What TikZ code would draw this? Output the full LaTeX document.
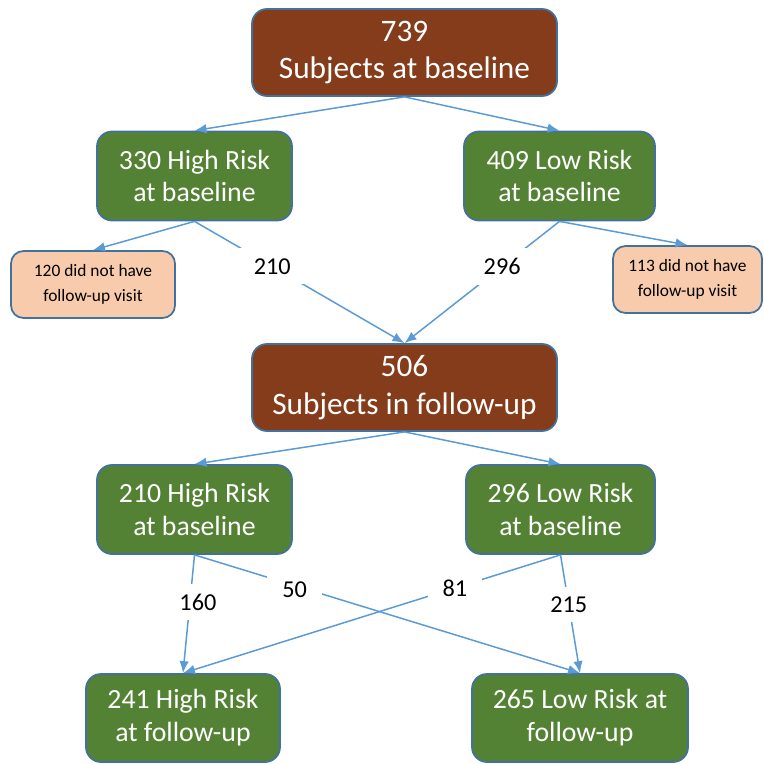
\documentclass[tikz,border=0pt]{standalone}
\usepackage{fontspec}
\setmainfont{Carlito}
\usepackage{tikz}
\usetikzlibrary{arrows.meta,positioning,calc}

\definecolor{boxline}{HTML}{41719C}
\definecolor{flowblue}{HTML}{5B9BD5}
\definecolor{brownfill}{HTML}{843C1A}
\definecolor{greenfill}{HTML}{548235}
\definecolor{peachfill}{HTML}{F8CBAD}

\begin{document}
\begin{tikzpicture}[
  >={Latex[length=2.4mm,width=1.9mm]},
  totalbox/.style={rectangle,rounded corners=3mm,draw=boxline,line width=1pt,
    fill=brownfill,text=white,align=center,inner sep=0pt,
    minimum width=6.1cm,minimum height=1.74cm,font=\fontsize{17.8}{21.5}\selectfont},
  riskbox/.style={rectangle,rounded corners=3mm,draw=boxline,line width=1pt,
    fill=greenfill,text=white,align=center,inner sep=0pt,
    minimum height=1.78cm,font=\fontsize{15.8}{18.7}\selectfont},
  lostbox/.style={rectangle,rounded corners=2.5mm,draw=boxline,line width=1pt,
    fill=peachfill,text=black,align=center,inner sep=0pt,
    minimum height=1.34cm,font=\fontsize{9.9}{14.2}\selectfont},
  flow/.style={->,draw=flowblue,line width=0.85pt},
  numlab/.style={fill=white,text=black,inner xsep=0.3cm,inner ysep=0.2cm,
    font=\fontsize{13.8}{16}\selectfont}
]
\useasboundingbox (0,0) rectangle (15.26,-15.28);

% ===================== baseline =====================
\node[totalbox] (base) at (8.09,-1.05) {739\\Subjects at baseline};

\node[riskbox,minimum width=3.9cm]  (hrb) at (3.89,-3.52)  {330 High Risk\\at baseline};
\node[riskbox,minimum width=3.82cm] (lrb) at (11.19,-3.52) {409 Low Risk\\at baseline};

% lost to follow-up
\node[lostbox,minimum width=3.28cm] (nohr) at (1.86,-5.69)  {120 did not have\\follow-up visit};
\node[lostbox,minimum width=2.98cm] (nolr) at (13.75,-5.59) {113 did not have\\follow-up visit};

% ===================== follow-up =====================
\node[totalbox] (fu) at (8.09,-7.75) {506\\Subjects in follow-up};

\node[riskbox,minimum width=3.9cm]  (hrf) at (3.89,-10.19)  {210 High Risk\\at baseline};
\node[riskbox,minimum width=3.78cm] (lrf) at (11.21,-10.19) {296 Low Risk\\at baseline};

\node[riskbox,minimum width=3.88cm,minimum height=1.76cm] (hrfu) at (3.66,-14.36) {241 High Risk\\at follow-up};
\node[riskbox,minimum width=4.32cm,minimum height=1.76cm] (lrfu) at (11.6,-14.36) {265 Low Risk at\\follow-up};

% ===================== arrows =====================
\draw[flow] (base.south) -- (hrb.north);
\draw[flow] (base.south) -- (lrb.north);

\draw[flow] (hrb.south) -- (nohr.north);
\draw[flow] (lrb.south) -- (nolr.north);
\draw[flow] (hrb.south) -- node[numlab,pos=0.37] {210} (fu.north);
\draw[flow] (lrb.south) -- node[numlab,pos=0.37] {296} (fu.north);

\draw[flow] (fu.south) -- (hrf.north);
\draw[flow] (fu.south) -- (lrf.north);

% transitions between risk groups
\draw[flow] (hrf.south) -- node[numlab,pos=0.40,xshift=0.16cm] {160} (hrfu.north);
\draw[flow] (hrf.south) -- node[numlab,pos=0.26,yshift=-0.08cm] {50} (lrfu.north);
\draw[flow] (lrf.south) -- node[numlab,pos=0.28] {81} (hrfu.north);
\draw[flow] (lrf.south) -- node[numlab,pos=0.42] {215} (lrfu.north);

\end{tikzpicture}
\end{document}
